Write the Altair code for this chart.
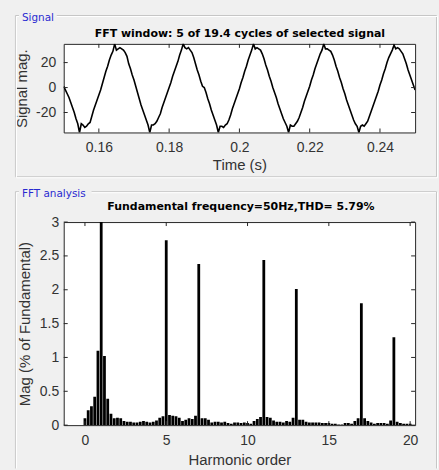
import altair as alt
import pandas as pd

# ---------------- data ----------------
signal_title = "FFT window: 5 of 19.4 cycles of selected signal"
fft_title = "Fundamental frequency=50Hz,THD= 5.79%"
panel_labels = ["Signal", "FFT analysis"]
time_axis_title = "Time (s)"
signal_axis_title = "Signal mag."
harm_axis_title = "Harmonic order"
mag_axis_title = "Mag (% of Fundamental)"

# signal samples every 0.5 ms starting at 0.150 s
signal_start_ms = 150.0
signal_step_ms = 0.5
signal_values = [
    # cycle 1
    1, -2, -5, -8, -12, -16, -20, -25, -29, -36,
    -29, -30, -32, -31, -29, -28, -23, -18, -14, -10,
    -6, -2, 3, 8, 13, 17, 22, 26, 29, 35,
    30, 31, 32, 31, 30, 28, 25, 19, 15, 10,
    # cycle 2
    6, 1, -4, -9, -14, -18, -22, -26, -30, -36,
    -30, -30, -29, -27, -24, -21, -16, -12, -8, -4,
    0, 4, 9, 13, 17, 21, 26, 30, 35, 32,
    31, 32, 30, 28, 24, 19, 14, 10, 5, 1,
    # cycle 3
    0, -4, -9, -13, -18, -22, -26, -30, -36, -31,
    -31, -32, -30, -29, -26, -22, -17, -13, -9, -5,
    -1, 4, 8, 13, 17, 22, 26, 30, 35, 31,
    32, 31, 30, 27, 23, 18, 14, 9, 5, 0,
    # cycle 4
    -4, -8, -13, -17, -21, -25, -28, -31, -36, -30,
    -31, -31, -29, -27, -24, -20, -16, -11, -7, -3,
    1, 6, 10, 15, 19, 23, 27, 30, 35, 31,
    31, 30, 29, 26, 22, 17, 13, 8, 4, -1,
    # cycle 5
    -5, -10, -14, -18, -22, -26, -29, -31, -36, -31,
    -30, -31, -29, -27, -23, -19, -15, -11, -7, -3,
    2, 6, 11, 15, 20, 24, 27, 30, 34, 31,
    32, 31, 29, 27, 23, 19, 14, 10, 6, 2,
    -2,
]

# FFT magnitudes (% of fundamental) every 0.2 harmonic order, 0 .. 20
harmonic_step = 0.2
fft_mag = [
    0.10, 0.22, 0.28, 0.42, 1.10, 100.0, 1.02, 0.39, 0.17, 0.10,   # 0.0 - 1.8
    0.11, 0.10, 0.06, 0.05, 0.05, 0.04, 0.04, 0.05, 0.06, 0.05,    # 2.0 - 3.8
    0.04, 0.05, 0.07, 0.11, 0.13, 2.73, 0.15, 0.14, 0.13, 0.11,    # 4.0 - 5.8
    0.06, 0.08, 0.10, 0.09, 0.14, 2.38, 0.10, 0.10, 0.08, 0.04,    # 6.0 - 7.8
    0.05, 0.05, 0.04, 0.05, 0.03, 0.02, 0.04, 0.04, 0.03, 0.04,    # 8.0 - 9.8
    0.03, 0.02, 0.06, 0.09, 0.12, 2.44, 0.12, 0.11, 0.07, 0.05,    # 10.0 - 11.8
    0.05, 0.04, 0.06, 0.05, 0.11, 2.01, 0.08, 0.08, 0.05, 0.04,    # 12.0 - 13.8
    0.04, 0.04, 0.04, 0.03, 0.03, 0.03, 0.02, 0.02, 0.01, 0.01,    # 14.0 - 15.8
    0.03, 0.03, 0.02, 0.06, 0.10, 1.80, 0.10, 0.06, 0.04, 0.02,    # 16.0 - 17.8
    0.03, 0.03, 0.03, 0.02, 0.07, 1.30, 0.05, 0.03, 0.02, 0.02,    # 18.0 - 19.8
    0.02,                                                          # 20.0
]

time_ticks = [0.16, 0.18, 0.2, 0.22, 0.24]
signal_ticks = [-20, 0, 20]
harm_ticks = [0, 5, 10, 15, 20]
mag_ticks = [0, 0.5, 1, 1.5, 2, 2.5, 3]

# ---------------- tables ----------------
sig = pd.DataFrame({
    "t": [(signal_start_ms + i * signal_step_ms) / 1000.0 for i in range(len(signal_values))],
    "v": signal_values,
})
fft = pd.DataFrame({
    "h": [round(i * harmonic_step, 1) for i in range(len(fft_mag))],
    "m": fft_mag,
})
tx1 = pd.DataFrame({"t": time_ticks})
ty1 = pd.DataFrame({"v": signal_ticks})
tx2 = pd.DataFrame({"h": harm_ticks})
ty2 = pd.DataFrame({"m": mag_ticks})
lab1 = pd.DataFrame({"label": [panel_labels[0]], "title": [signal_title]})
lab2 = pd.DataFrame({"label": [panel_labels[1]], "title": [fft_title]})

# ---------------- styling ----------------
W = 353
H1 = 89
H2 = 204
FRAME = "#262626"
TXT = "#333333"
BG = "#f0f0f0"
ETCH_D = "#c6c6c6"
ETCH_L = "#ffffff"
BLUE = "#2a2ad0"
TICK = 4

# ---------------- top panel ----------------
xs1 = alt.Scale(domain=[0.15, 0.25], nice=False, zero=False)
ys1 = alt.Scale(domain=[-36, 35], nice=False, zero=False)
ax_x1 = alt.Axis(values=time_ticks, labelExpr="datum.value + ''", title=time_axis_title,
                 labelPadding=8, titlePadding=3)
ax_y1 = alt.Axis(values=signal_ticks, labelExpr="datum.value + ''", title=signal_axis_title,
                 labelPadding=8, titlePadding=6)
X1 = alt.X("t:Q", scale=xs1, axis=ax_x1)
Y1 = alt.Y("v:Q", scale=ys1, axis=ax_y1)

line = alt.Chart(sig).mark_line(color="black", strokeWidth=1.6, clip=True).encode(x=X1, y=Y1)
tk1 = [
    alt.Chart(tx1).mark_rule(color=FRAME).encode(x=X1, y=alt.value(0), y2=alt.value(TICK)),
    alt.Chart(tx1).mark_rule(color=FRAME).encode(x=X1, y=alt.value(H1 - TICK), y2=alt.value(H1)),
    alt.Chart(ty1).mark_rule(color=FRAME).encode(y=Y1, x=alt.value(0), x2=alt.value(TICK)),
    alt.Chart(ty1).mark_rule(color=FRAME).encode(y=Y1, x=alt.value(W - TICK), x2=alt.value(W)),
]
# page origin marker, group box, labels (pixel positions relative to plot origin at page 63,42)
deco1 = [
    alt.Chart(lab1).mark_rect(color=BG).encode(
        x=alt.value(-63), x2=alt.value(-62), y=alt.value(-42), y2=alt.value(-41)),
    alt.Chart(lab1).mark_rect(fillOpacity=0, stroke=ETCH_D, strokeWidth=1).encode(
        x=alt.value(-48.5), x2=alt.value(374.5), y=alt.value(-28.5), y2=alt.value(133.5)),
    alt.Chart(lab1).mark_rect(fillOpacity=0, stroke=ETCH_L, strokeWidth=1).encode(
        x=alt.value(-47.5), x2=alt.value(375.5), y=alt.value(-27.5), y2=alt.value(134.5)),
    alt.Chart(lab1).mark_rect(color=BG).encode(
        x=alt.value(-45), x2=alt.value(-7), y=alt.value(-35), y2=alt.value(-20)),
    alt.Chart(lab1).mark_text(color=BLUE, font="DejaVu Sans", fontSize=10.5, align="left",
                              baseline="middle").encode(
        x=alt.value(-42), y=alt.value(-26), text="label:N"),
    alt.Chart(lab1).mark_text(color="black", font="DejaVu Sans", fontSize=11, fontWeight="bold",
                              align="center", baseline="middle").encode(
        x=alt.value(177), y=alt.value(-10), text="title:N"),
]
top = alt.layer(*deco1, line, *tk1).properties(width=W, height=H1)

# ---------------- bottom panel ----------------
xs2 = alt.Scale(domain=[-1, 20], nice=False, zero=False)
ys2 = alt.Scale(domain=[0, 3], nice=False)
ax_x2 = alt.Axis(values=harm_ticks, labelExpr="datum.value + ''", title=harm_axis_title,
                 labelPadding=8, titlePadding=6)
ax_y2 = alt.Axis(values=mag_ticks, labelExpr="datum.value + ''", title=mag_axis_title,
                 labelPadding=5, titlePadding=7)
X2 = alt.X("h:Q", scale=xs2, axis=ax_x2)
Y2 = alt.Y("m:Q", scale=ys2, axis=ax_y2, stack=False)

bars = alt.Chart(fft).mark_bar(color="black", size=2.8, clip=True, orient="vertical").encode(
    x=X2, y=Y2)
tk2 = [
    alt.Chart(tx2).mark_rule(color=FRAME).encode(x=X2, y=alt.value(0), y2=alt.value(TICK)),
    alt.Chart(tx2).mark_rule(color=FRAME).encode(x=X2, y=alt.value(H2 - TICK), y2=alt.value(H2)),
    alt.Chart(ty2).mark_rule(color=FRAME).encode(y=Y2, x=alt.value(0), x2=alt.value(TICK)),
    alt.Chart(ty2).mark_rule(color=FRAME).encode(y=Y2, x=alt.value(W - TICK), x2=alt.value(W)),
]
# group box and labels (relative to plot origin at page 63,221)
deco2 = [
    alt.Chart(lab2).mark_rule(color=ETCH_D).encode(
        x=alt.value(-48.5), x2=alt.value(374.5), y=alt.value(-30.5)),
    alt.Chart(lab2).mark_rule(color=ETCH_L).encode(
        x=alt.value(-47.5), x2=alt.value(375.5), y=alt.value(-29.5)),
    alt.Chart(lab2).mark_rule(color=ETCH_D).encode(
        x=alt.value(-48.5), y=alt.value(-30.5), y2=alt.value(247.5)),
    alt.Chart(lab2).mark_rule(color=ETCH_L).encode(
        x=alt.value(-47.5), y=alt.value(-29.5), y2=alt.value(247.5)),
    alt.Chart(lab2).mark_rule(color=ETCH_D).encode(
        x=alt.value(374.5), y=alt.value(-30.5), y2=alt.value(247.5)),
    alt.Chart(lab2).mark_rule(color=ETCH_L).encode(
        x=alt.value(375.5), y=alt.value(-29.5), y2=alt.value(247.5)),
    alt.Chart(lab2).mark_rect(color=BG).encode(
        x=alt.value(-45), x2=alt.value(28), y=alt.value(-37), y2=alt.value(-22)),
    alt.Chart(lab2).mark_text(color=BLUE, font="DejaVu Sans", fontSize=10.5, align="left",
                              baseline="middle").encode(
        x=alt.value(-42), y=alt.value(-28), text="label:N"),
    alt.Chart(lab2).mark_text(color="black", font="DejaVu Sans", fontSize=11, fontWeight="bold",
                              align="center", baseline="middle").encode(
        x=alt.value(178), y=alt.value(-15), text="title:N"),
]
bottom = alt.layer(*deco2, bars, *tk2).properties(width=W, height=H2)

chart = alt.vconcat(top, bottom, spacing=90, bounds="flush").properties(
    padding=0, background=BG,
).configure_view(
    fill="white", stroke=FRAME, strokeWidth=1,
).configure_axis(
    domain=False, ticks=False, tickSize=0, grid=False, labelFlush=False, labelOverlap=False,
    labelFont="Liberation Sans", labelFontSize=14, labelColor=TXT,
    titleFont="Liberation Sans", titleFontSize=15, titleFontWeight="normal", titleColor=TXT,
)

chart.save("out.html", embed_options={"renderer": "svg", "actions": False})
